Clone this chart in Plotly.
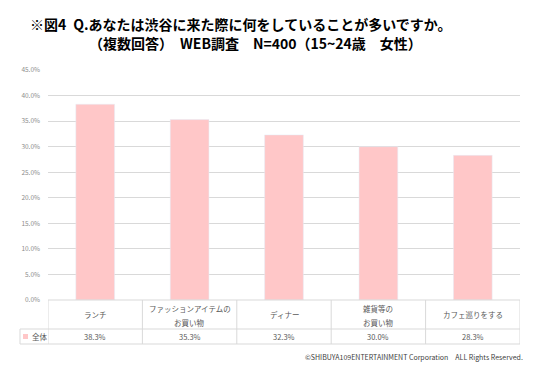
import plotly.graph_objects as go

categories = ["ランチ", "ファッションアイテムの<br>お買い物", "ディナー", "雑貨等の<br>お買い物", "カフェ巡りをする"]
values = [38.3, 35.3, 32.3, 30.0, 28.3]
value_labels = ["38.3%", "35.3%", "32.3%", "30.0%", "28.3%"]
series_name = "全体"
tick_vals = [0, 5, 10, 15, 20, 25, 30, 35, 40, 45]
tick_text = ["0.0%", "5.0%", "10.0%", "15.0%", "20.0%", "25.0%", "30.0%", "35.0%", "40.0%", "45.0%"]
title1 = "※図4\u2002Q.あなたは渋谷に来た際に何をしていることが多いですか。"
title2 = "（複数回答）　WEB調査　N=400（15~24歳　女性）"
credit = "©SHIBUYA109ENTERTAINMENT Corporation　ALL Rights Reserved."

# page body has an 8px margin; work in screen px and shift
OFF = 8
W, H = 547 - OFF, 374 - OFF
L = 48 - OFF
R = W - (520 - OFF)
T = 70 - OFF
B = H - (300 - OFF)
pw, ph = W - L - R, H - T - B

def px_x(px):
    return (px - OFF - L) / pw

def px_y(py):
    return (H - B - (py - OFF)) / ph

BAR = "#FFC7C8"
GRID = "#D9D9D9"
TXT = "#595959"
FONT = "Noto Sans CJK JP"

n = len(categories)
xs = list(range(n))

fig = go.Figure()
fig.add_trace(go.Bar(x=xs, y=values, marker_color=BAR, width=0.41, name=series_name,
                     showlegend=False, hoverinfo="skip"))

shapes = []
line = dict(color=GRID, width=1)
y_r1 = px_y(329)
y_r2 = px_y(344)
shapes.append(dict(type="line", xref="paper", yref="paper", x0=0, x1=1, y0=0, y1=0, line=line))
shapes.append(dict(type="line", xref="paper", yref="paper", x0=px_x(20), x1=1, y0=y_r1, y1=y_r1, line=line))
shapes.append(dict(type="line", xref="paper", yref="paper", x0=px_x(20), x1=1, y0=y_r2, y1=y_r2, line=line))
for i in range(n + 1):
    shapes.append(dict(type="line", xref="x", yref="paper", x0=i - 0.5, x1=i - 0.5, y0=0, y1=y_r2, line=line))
shapes.append(dict(type="line", xref="paper", yref="paper", x0=px_x(20), x1=px_x(20), y0=y_r1, y1=y_r2, line=line))
shapes.append(dict(type="rect", xref="paper", yref="paper", x0=px_x(23), x1=px_x(28),
                   y0=px_y(339), y1=px_y(334), fillcolor=BAR, line=dict(width=0)))

annotations = []
cat_font = dict(family=FONT, size=7.5, color=TXT)
for i, c in enumerate(categories):
    parts = c.split("<br>")
    if len(parts) == 1:
        ys = [314.5]
    else:
        ys = [308, 322]
    for p, yy in zip(parts, ys):
        annotations.append(dict(x=i, xref="x", y=px_y(yy), yref="paper", text=p, showarrow=False,
                                font=cat_font, xanchor="center", yanchor="middle"))
    annotations.append(dict(x=i, xref="x", y=px_y(336.5), yref="paper", text=value_labels[i], showarrow=False,
                            font=cat_font, xanchor="center", yanchor="middle"))
annotations.append(dict(x=px_x(30), xref="paper", y=px_y(336.5), yref="paper", text=series_name, showarrow=False,
                        font=cat_font, xanchor="left", yanchor="middle"))
annotations.append(dict(x=px_x(28), xref="paper", y=px_y(24), yref="paper", text="<b>" + title1 + "</b>",
                        showarrow=False, font=dict(family=FONT, size=14, color="#000000"),
                        xanchor="left", yanchor="middle"))
annotations.append(dict(x=px_x(87), xref="paper", y=px_y(43), yref="paper", text="<b>" + title2 + "</b>",
                        showarrow=False, font=dict(family=FONT, size=14, color="#000000"),
                        xanchor="left", yanchor="middle"))
annotations.append(dict(x=px_x(525), xref="paper", y=px_y(357), yref="paper", text=credit,
                        showarrow=False, font=dict(family=FONT, size=7, color="#404040"),
                        xanchor="right", yanchor="middle"))

fig.update_layout(
    width=W, height=H,
    margin=dict(l=L, r=R, t=T, b=B, pad=0),
    paper_bgcolor="white", plot_bgcolor="white",
    xaxis=dict(range=[-0.5, n - 0.5], showticklabels=False, showgrid=False, zeroline=False, fixedrange=True),
    yaxis=dict(range=[0, 45], tickvals=tick_vals, ticktext=tick_text, showgrid=True, gridcolor=GRID,
               gridwidth=1, zeroline=False, ticks="", ticklabelstandoff=7,
               tickfont=dict(family=FONT, size=6.5, color="#8C8C8C")),
    shapes=shapes, annotations=annotations,
    bargap=0.6,
)

fig.write_html("out.html")
